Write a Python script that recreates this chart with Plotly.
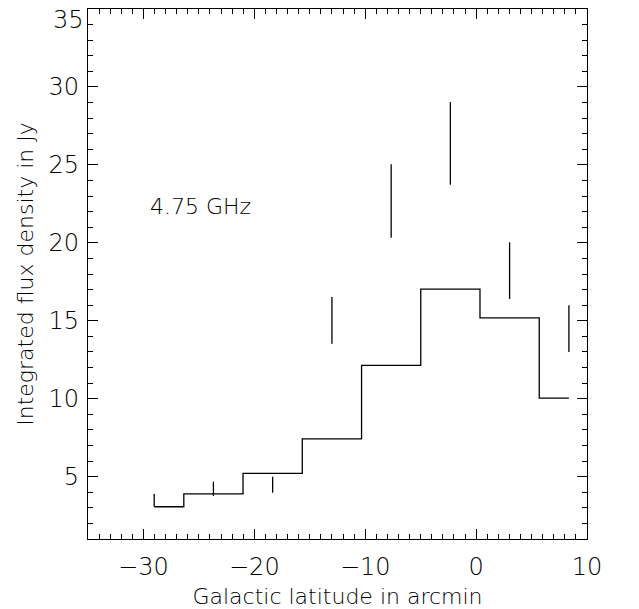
import plotly.graph_objects as go

# Histogram (step) data: bin centres and integrated flux
step_x = [-29.03, -23.69, -18.35, -13.0, -7.66, -2.32, 3.02, 8.37]
step_y = [3.07, 3.89, 5.21, 7.42, 12.14, 17.03, 15.18, 10.04]

# Error-bar measurements: positions, lower and upper bounds
err_x = [-29.03, -23.69, -18.35, -13.0, -7.66, -2.32, 3.02, 8.37]
err_lo = [3.07, 3.76, 3.97, 13.53, 20.33, 23.73, 16.4, 13.0]
err_hi = [3.89, 4.68, 5.0, 16.53, 25.04, 29.03, 20.03, 16.0]

x_ticks = [-30, -20, -10, 0, 10]
y_ticks = [5, 10, 15, 20, 25, 30, 35]
y_top_tick = y_ticks[-1]

FONT = "DejaVu Sans"
FW = 200

fig = go.Figure()

fig.add_trace(go.Scatter(
    x=step_x, y=step_y, mode="lines", line=dict(shape="hvh", color="black", width=1.3),
    showlegend=False, hoverinfo="skip"))

ex, ey = [], []
for x, lo, hi in zip(err_x, err_lo, err_hi):
    ex += [x, x, None]
    ey += [lo, hi, None]
fig.add_trace(go.Scatter(x=ex, y=ey, mode="lines", line=dict(color="black", width=1.3),
                         showlegend=False, hoverinfo="skip"))

fig.add_annotation(x=-29.6, y=22.3, text="4.75 GHz", showarrow=False, xanchor="left",
                   yanchor="middle", font=dict(family=FONT, size=22, color="#000", weight=FW))

# top tick label sits just below the frame top (as in the reference)
fig.add_annotation(xref="paper", x=0, y=y_top_tick, text=str(y_top_tick), showarrow=False,
                   xanchor="right", yanchor="top", xshift=-3, yshift=4, borderpad=0,
                   font=dict(family=FONT, size=24, color="#000", weight=FW))

axis_common = dict(showgrid=False, zeroline=False, showline=True, linecolor="black", linewidth=1.3,
                   mirror="allticks", ticks="inside", ticklen=10, tickwidth=1.2, tickcolor="black",
                   automargin=False, ticklabeloverflow="allow",
                   tickfont=dict(family=FONT, size=24, color="#000", weight=FW))

fig.update_xaxes(range=[-35, 10.001], tickvals=x_ticks, ticktext=["\u221230", "\u221220", "\u221210", "0", "10"],
                 ticklabelstandoff=6,
                 title=dict(text="Galactic latitude in arcmin", font=dict(family=FONT, size=22, color="#000", weight=FW),
                            standoff=8),
                 minor=dict(dtick=1, ticks="inside", ticklen=5, tickcolor="black", tickwidth=1),
                 **axis_common)
fig.update_yaxes(range=[1, 35.001], tickvals=y_ticks,
                 ticktext=[str(v) if v != y_top_tick else "" for v in y_ticks],
                 ticklabelstandoff=3,
                 title=dict(text="Integrated flux density in Jy", font=dict(family=FONT, size=22, color="#000", weight=FW),
                            standoff=8),
                 minor=dict(dtick=1, ticks="inside", ticklen=5, tickcolor="black", tickwidth=1),
                 **axis_common)

fig.update_layout(width=639, height=609, margin=dict(l=88, r=52, t=9, b=70),
                  plot_bgcolor="white", paper_bgcolor="white")

fig.write_html("out.html", config={"displayModeBar": False},
               post_script="document.body.style.margin='0';document.body.style.overflow='hidden';")
